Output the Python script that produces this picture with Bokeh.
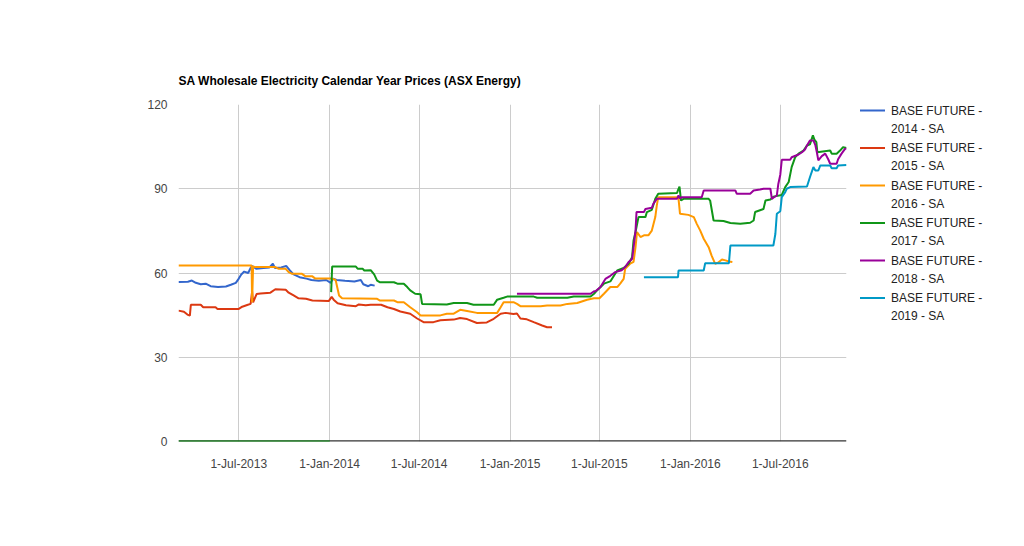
import numpy as np
import pandas as pd
from bokeh.plotting import figure
from bokeh.models import Range1d, FixedTicker, Span
from bokeh.core.properties import value
from bokeh.layouts import row
from bokeh.embed import file_html
from bokeh.resources import INLINE

title_text = "SA Wholesale Electricity Calendar Year Prices (ASX Energy)"
series_names = ["BASE FUTURE - 2014 - SA", "BASE FUTURE - 2015 - SA", "BASE FUTURE - 2016 - SA",
                "BASE FUTURE - 2017 - SA", "BASE FUTURE - 2018 - SA", "BASE FUTURE - 2019 - SA"]
colors = ["#3366cc", "#dc3912", "#ff9900", "#109618", "#990099", "#0099c6"]
tick_dates = ["2013-07-01", "2014-01-01", "2014-07-01", "2015-01-01", "2015-07-01", "2016-01-01", "2016-07-01"]
tick_labels = ["1-Jul-2013", "1-Jan-2014", "1-Jul-2014", "1-Jan-2015", "1-Jul-2015", "1-Jan-2016", "1-Jul-2016"]
y_ticks = [0, 30, 60, 90, 120]
x_start, x_end = "2013-03-01", "2016-11-12"

d14 = ["2013-03-01","2013-03-20","2013-03-28","2013-04-05","2013-04-15","2013-04-25","2013-05-05","2013-05-20",
       "2013-06-05","2013-06-15","2013-06-25","2013-07-01","2013-07-06","2013-07-12","2013-07-20","2013-07-25",
       "2013-07-28","2013-08-05","2013-08-20","2013-09-01","2013-09-08","2013-09-12","2013-09-25","2013-10-05",
       "2013-10-12","2013-10-20","2013-11-01","2013-11-15","2013-11-25","2013-12-10","2013-12-25","2014-01-03",
       "2014-01-08","2014-01-15","2014-02-01","2014-02-20","2014-03-05","2014-03-10","2014-03-20","2014-03-25",
       "2014-04-02"]
v14 = [56.8,56.9,57.3,56.5,56.0,56.2,55.3,55.0,55.2,55.8,56.5,58.0,59.5,60.5,60.0,61.8,62.5,61.5,61.8,62.0,
       63.3,61.8,62.0,62.5,61.0,59.5,58.5,58.0,57.5,57.2,57.5,56.5,58.0,57.5,57.2,57.0,57.5,56.0,55.3,55.8,55.5]

d15 = ["2013-03-01","2013-03-12","2013-03-19","2013-03-24","2013-03-26","2013-04-15","2013-04-20","2013-05-15",
       "2013-05-19","2013-07-01","2013-07-08","2013-07-18","2013-07-25","2013-07-28","2013-07-30","2013-08-06",
       "2013-08-14","2013-09-03","2013-09-13","2013-10-04","2013-10-10","2013-10-20","2013-10-30","2013-11-14",
       "2013-11-27","2013-12-30","2014-01-05","2014-01-09","2014-01-17","2014-02-03","2014-02-23","2014-03-01",
       "2014-03-15","2014-03-25","2014-04-15","2014-04-28","2014-05-11","2014-05-24","2014-06-13","2014-06-27",
       "2014-07-10","2014-07-30","2014-08-13","2014-09-09","2014-09-22","2014-10-06","2014-10-26","2014-11-15",
       "2014-11-29","2014-12-13","2014-12-23","2015-01-08","2015-01-15","2015-01-22","2015-02-04","2015-02-18",
       "2015-03-07","2015-03-17","2015-03-27"]
v15 = [46.6,46.2,45.2,44.8,48.7,48.7,47.8,47.8,47.2,47.2,48.0,48.6,49.0,53.5,49.5,52.5,52.7,53.0,54.2,54.0,
       53.0,52.0,51.0,50.8,50.2,50.0,51.5,50.5,49.2,48.5,48.2,48.8,48.5,48.7,48.7,47.8,47.2,46.3,45.5,43.8,
       42.5,42.5,43.2,43.4,44.0,43.6,42.2,42.4,43.7,45.5,45.8,45.4,45.6,43.8,43.5,42.5,41.3,40.7,40.7]

d16 = ["2013-03-01","2013-07-27","2013-07-28","2013-07-30","2013-08-04","2013-09-13","2013-09-20","2013-10-04",
       "2013-10-10","2013-10-17","2013-11-06","2013-11-13","2013-11-27","2013-12-03","2014-01-06","2014-01-13",
       "2014-01-20","2014-01-26","2014-04-07","2014-04-13","2014-05-11","2014-05-18","2014-05-31","2014-06-13",
       "2014-06-27","2014-07-04","2014-08-13","2014-08-26","2014-09-09","2014-09-22","2014-10-06","2014-10-26",
       "2014-12-06","2014-12-13","2014-12-19","2015-01-08","2015-01-15","2015-01-22","2015-03-04","2015-03-17",
       "2015-04-13","2015-04-27","2015-05-17","2015-06-06","2015-06-20","2015-07-01","2015-07-10","2015-07-23",
       "2015-08-06","2015-08-12","2015-08-19","2015-08-22","2015-09-01","2015-09-08","2015-09-12","2015-09-15",
       "2015-09-22","2015-09-29","2015-10-08","2015-10-15","2015-10-22","2015-10-25","2015-10-28","2015-12-05",
       "2015-12-08","2015-12-11","2015-12-28","2016-01-08","2016-01-14","2016-01-21","2016-01-28","2016-02-07",
       "2016-02-13","2016-02-20","2016-02-27","2016-03-05","2016-03-12","2016-03-19","2016-03-26"]
v16 = [62.7,62.7,49.6,62.3,62.1,62.1,61.5,61.5,60.3,59.7,59.7,58.8,58.8,58.0,58.0,57.5,52.0,51.0,50.8,50.2,
       50.2,49.6,49.6,47.8,46.0,44.9,44.9,45.5,45.5,46.9,46.5,45.8,45.8,47.8,49.6,49.6,49.0,48.2,48.2,48.4,
       48.4,49.0,49.3,50.5,51.0,51.0,52.6,55.0,55.0,56.2,57.9,61.5,63.3,64.0,69.2,74.6,72.8,73.4,73.4,75.1,
       79.9,84.0,87.0,87.0,86.5,81.1,80.7,79.9,77.5,75.1,72.2,69.2,66.2,63.3,63.8,64.8,64.5,64.1,63.9]

d17 = ["2013-03-01","2014-01-01","2014-01-02","2014-01-04","2014-01-06","2014-02-23","2014-02-27","2014-03-09",
       "2014-03-12","2014-03-25","2014-04-01","2014-04-07","2014-04-13","2014-05-11","2014-05-18","2014-05-31",
       "2014-06-07","2014-06-13","2014-06-23","2014-07-04","2014-07-07","2014-08-26","2014-09-09","2014-10-06",
       "2014-10-19","2014-11-29","2014-12-06","2014-12-19","2014-12-26","2015-02-18","2015-02-25","2015-04-27",
       "2015-05-10","2015-06-13","2015-06-20","2015-06-26","2015-07-10","2015-07-23","2015-08-06","2015-08-19",
       "2015-08-29","2015-09-05","2015-09-08","2015-09-12","2015-09-18","2015-10-02","2015-10-05","2015-10-15",
       "2015-10-22","2015-10-28","2015-12-05","2015-12-07","2015-12-10","2015-12-13","2015-12-18","2016-02-07",
       "2016-02-10","2016-02-17","2016-03-08","2016-03-22","2016-04-11","2016-05-01","2016-05-08","2016-05-11",
       "2016-05-28","2016-06-01","2016-06-11","2016-06-17","2016-07-04","2016-07-11","2016-07-18","2016-07-24",
       "2016-07-31","2016-08-07","2016-08-17","2016-08-24","2016-08-30","2016-09-05","2016-09-08","2016-09-12",
       "2016-09-14","2016-10-10","2016-10-13","2016-10-23","2016-10-30","2016-11-05","2016-11-12"]
v17 = [0,0,None,53.2,62.3,62.3,61.5,61.5,60.9,61.0,59.5,57.3,56.7,56.7,56.2,56.2,55.0,53.8,52.6,52.4,
       49.0,48.8,49.3,49.3,48.7,48.7,50.5,51.2,51.6,51.6,51.2,51.2,51.6,51.6,52.6,53.8,56.2,57.0,60.9,61.8,
       63.3,65.6,71.6,74.6,79.9,79.9,81.7,82.5,86.4,88.2,88.5,89.5,90.8,85.8,86.4,86.4,85.8,78.7,78.5,77.8,
       77.5,77.9,78.7,81.7,82.8,85.8,86.2,87.2,87.8,90.6,92.4,97.7,101.2,102.5,103.6,105.4,105.8,109.0,107.5,
       106.6,103.0,103.6,102.5,102.5,103.6,104.8,104.5]

d18 = ["2015-01-15","2015-06-13","2015-06-20","2015-06-23","2015-07-03","2015-07-13","2015-07-23","2015-08-02",
       "2015-08-15","2015-08-22","2015-08-29","2015-09-05","2015-09-08","2015-09-12","2015-09-14","2015-09-29",
       "2015-10-02","2015-10-15","2015-10-18","2015-10-25","2015-12-05","2015-12-08","2015-12-11","2015-12-14",
       "2016-01-24","2016-01-28","2016-04-01","2016-04-04","2016-05-01","2016-05-08","2016-05-21","2016-05-28",
       "2016-06-11","2016-06-14","2016-06-17","2016-06-24","2016-06-27","2016-07-01","2016-07-04","2016-07-21",
       "2016-07-24","2016-08-07","2016-08-14","2016-08-20","2016-08-24","2016-08-30","2016-09-06","2016-09-10",
       "2016-09-13","2016-09-16","2016-09-23","2016-09-30","2016-10-06","2016-10-10","2016-10-23","2016-10-26",
       "2016-11-02","2016-11-09","2016-11-12"]
v18 = [52.6,52.6,53.5,53.5,55.0,57.9,59.0,60.3,61.0,62.1,63.9,65.0,69.0,75.1,81.7,81.7,82.8,83.2,84.6,86.4,
       86.4,87.6,86.5,87.0,87.0,89.4,89.4,88.2,88.2,89.4,89.7,90.0,90.0,86.4,86.8,87.6,91.7,95.0,100.3,100.3,
       101.2,102.2,103.0,104.0,105.4,107.2,107.2,105.5,103.0,100.1,101.6,102.5,100.5,98.9,98.9,100.5,102.5,
       104.2,104.2]

d19 = ["2015-09-29","2015-12-07","2015-12-08","2016-01-28","2016-01-31","2016-03-19","2016-03-22","2016-06-17",
       "2016-06-21","2016-06-24","2016-07-01","2016-07-04","2016-07-11","2016-07-14","2016-07-21","2016-08-24",
       "2016-08-30","2016-09-06","2016-09-10","2016-09-16","2016-09-20","2016-10-10","2016-10-13","2016-10-23",
       "2016-10-26","2016-11-12"]
v19 = [58.5,58.5,60.9,60.9,63.5,63.5,69.8,69.8,73.9,81.1,82.0,87.0,88.8,90.0,90.6,90.8,94.1,97.7,96.5,96.5,
       98.3,98.3,97.3,97.3,98.3,98.5]

all_dates = [d14, d15, d16, d17, d18, d19]
all_values = [v14, v15, v16, v17, v18, v19]

FONT = "Liberation Sans"
TOP, BOTTOM = 104, 105
HEIGHT = 546

p = figure(width=850, height=HEIGHT, x_axis_type="datetime",
           x_range=Range1d(pd.Timestamp(x_start), pd.Timestamp(x_end)),
           y_range=Range1d(0, 120),
           toolbar_location=None, output_backend="svg",
           min_border_left=178, min_border_right=4, min_border_top=TOP, min_border_bottom=BOTTOM)
p.outline_line_color = None
p.background_fill_color = "white"
p.border_fill_color = "white"

p.title.text = title_text
p.title.text_font = FONT
p.title.text_font_size = "12px"
p.title.text_font_style = "bold"
p.title.text_color = "#000000"
p.title.align = "left"
p.title.standoff = 34

tick_ms = [int(pd.Timestamp(d).timestamp() * 1000) for d in tick_dates]
p.xaxis.ticker = FixedTicker(ticks=tick_ms)
p.xaxis.major_label_overrides = {t: l for t, l in zip(tick_ms, tick_labels)}
p.xaxis.major_tick_line_color = None
p.xaxis.minor_tick_line_color = None
p.xaxis.axis_line_color = None
p.xaxis.major_label_text_font = FONT
p.xaxis.major_label_text_font_size = "12px"
p.xaxis.major_label_text_color = "#444444"
p.xaxis.major_label_standoff = 9

p.yaxis.ticker = FixedTicker(ticks=y_ticks)
p.yaxis.major_tick_line_color = None
p.yaxis.minor_tick_line_color = None
p.yaxis.axis_line_color = None
p.yaxis.major_label_text_font = FONT
p.yaxis.major_label_text_font_size = "12px"
p.yaxis.major_label_text_color = "#444444"
p.yaxis.major_label_standoff = 5

p.xgrid.grid_line_color = "#cccccc"
p.ygrid.grid_line_color = "#cccccc"

# baseline drawn beneath the series (series at zero cover it, as in the original)
p.add_layout(Span(location=0, dimension="width", line_color="#333333", line_width=2.5, level="underlay"))

for dates, vals, c in zip(all_dates, all_values, colors):
    x = pd.to_datetime(dates)
    y = np.array([np.nan if v is None else v for v in vals], dtype=float)
    p.line(x, y, line_color=c, line_width=2)

# Legend panel: its frame is aligned with the main frame, so use page-pixel ranges
lg = figure(width=174, height=HEIGHT, x_range=Range1d(850, 1024), y_range=Range1d(HEIGHT - BOTTOM, TOP),
            x_axis_location=None, y_axis_location=None,
            toolbar_location=None, output_backend="svg",
            min_border_left=0, min_border_right=0, min_border_top=TOP, min_border_bottom=BOTTOM)
lg.outline_line_color = None
lg.grid.visible = False
lg.background_fill_color = "white"
lg.border_fill_color = "white"

first_y = 110
step = 37.5
for i, (name, c) in enumerate(zip(series_names, colors)):
    yy = first_y + step * i
    parts = name.split(" - ", 1)
    line1 = parts[0] + " -"
    line2 = parts[1]
    lg.segment(x0=[859.5], y0=[yy], x1=[884.5], y1=[yy], line_color=c, line_width=2)
    lg.text(x=[890.5], y=[yy], text=[line1], text_baseline="middle", text_align="left",
            text_font_size="12px", text_color="#222222", text_font=value(FONT))
    lg.text(x=[890.5], y=[yy + 18.3], text=[line2], text_baseline="middle", text_align="left",
            text_font_size="12px", text_color="#222222", text_font=value(FONT))

layout = row(p, lg)
open("out.html", "w").write(file_html(layout, INLINE))
